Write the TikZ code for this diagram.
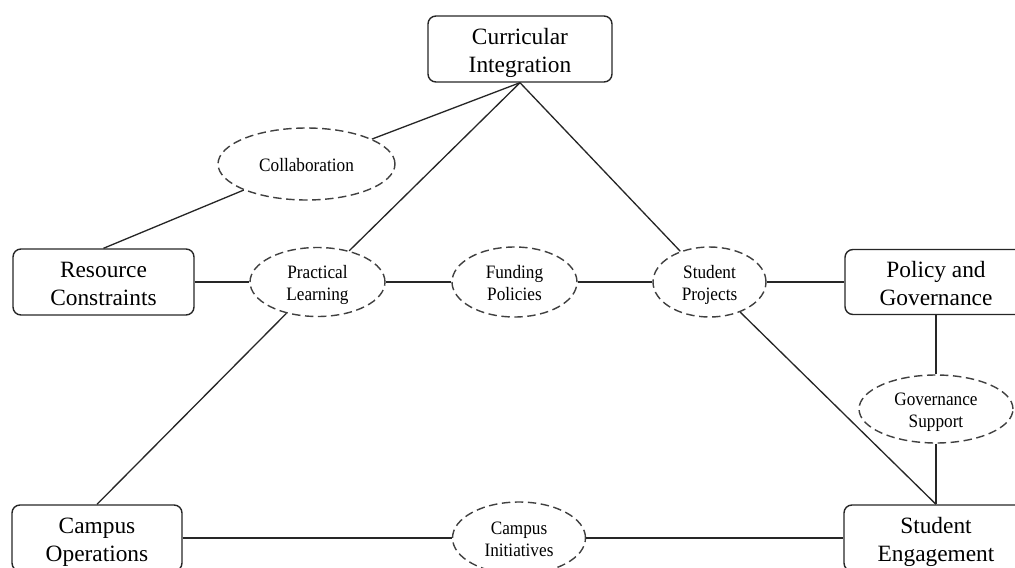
\documentclass[tikz,border=0pt]{standalone}
\usepackage{fontspec}
\usepackage{graphicx}
\setmainfont{Liberation Serif}
\usetikzlibrary{shapes.geometric}
\newcommand\boxtxt[1]{\raisebox{-2.2pt}[\height][\depth]{\begin{tabular}{@{}c@{}}#1\end{tabular}}}
\newcommand\ovaltxt[1]{\raisebox{-1.6pt}[\height][\depth]{\scalebox{1}[1.1]{\begin{tabular}{@{}c@{}}#1\end{tabular}}}}
\begin{document}
\begin{tikzpicture}[x=0.02cm,y=-0.02cm,
  box/.style={draw=black!85,line width=0.8pt,rounded corners=4.5pt,rectangle,inner sep=0pt,font=\fontsize{13.3}{16.2}\selectfont},
  oval/.style={draw=black!75,line width=0.8pt,dash pattern=on 4.8pt off 2.6pt,ellipse,inner sep=0pt,font=\fontsize{9.8}{11.4}\selectfont},
  link/.style={draw=black!85,line width=0.75pt}]
\useasboundingbox (0,0) rectangle (1015,568);
\clip (0,0) rectangle (1015,568);
% boxes
\node[box,minimum width=3.68cm,minimum height=1.32cm] (CI) at (520,49) {\boxtxt{Curricular\\Integration}};
\node[box,minimum width=3.62cm,minimum height=1.32cm] (RC) at (103.5,282) {\boxtxt{Resource\\Constraints}};
\node[box,minimum width=3.64cm,minimum height=1.30cm] (PG) at (936,282) {\boxtxt{Policy and\\Governance}};
\node[box,minimum width=3.40cm,minimum height=1.32cm] (CO) at (97,538) {\boxtxt{Campus\\Operations}};
\node[box,minimum width=3.68cm,minimum height=1.32cm] (SE) at (936,538) {\boxtxt{Student\\Engagement}};
% ovals
\node[oval,minimum width=3.54cm,minimum height=1.44cm] (CL) at (306.5,164) {\ovaltxt{Collaboration}};
\node[oval,minimum width=2.70cm,minimum height=1.38cm] (PL) at (317.5,282) {\ovaltxt{Practical\\Learning}};
\node[oval,minimum width=2.50cm,minimum height=1.40cm] (FP) at (514.5,282) {\ovaltxt{Funding\\Policies}};
\node[oval,minimum width=2.26cm,minimum height=1.40cm] (SP) at (709.5,282) {\ovaltxt{Student\\Projects}};
\node[oval,minimum width=3.08cm,minimum height=1.36cm] (GS) at (936,409) {\ovaltxt{Governance\\Support}};
\node[oval,minimum width=2.66cm,minimum height=1.44cm] (CN) at (519,538) {\ovaltxt{Campus\\Initiatives}};
% connectors
\draw[link] (CI.south) -- (CL);
\draw[link] (CL) -- (RC.north);
\draw[link] (CI.south) -- (PL);
\draw[link] (CI.south) -- (SP);
\draw[link] (RC.east) -- (PL.west);
\draw[link] (PL.east) -- (FP.west);
\draw[link] (FP.east) -- (SP.west);
\draw[link] (SP.east) -- (PG.west);
\draw[link] (PL) -- (CO.north);
\draw[link] (SP) -- (SE.north);
\draw[link] (PG.south) -- (GS.north);
\draw[link] (GS.south) -- (SE.north);
\draw[link] (CO.east) -- (CN.west);
\draw[link] (CN.east) -- (SE.west);
\end{tikzpicture}
\end{document}
